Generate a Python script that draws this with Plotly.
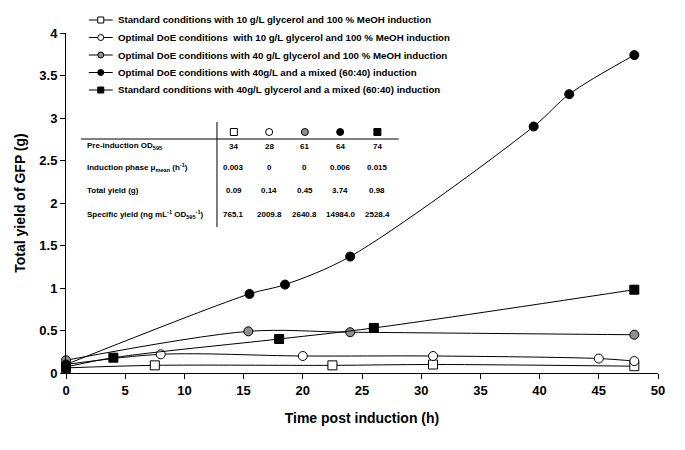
import plotly.graph_objects as go

# ---- data ----
names = [
    "Standard conditions with 10 g/L glycerol and 100 % MeOH induction",
    "Optimal DoE conditions  with 10 g/L glycerol and 100 % MeOH induction",
    "Optimal DoE conditions with 40 g/L glycerol and 100 % MeOH induction",
    "Optimal DoE conditions with 40g/L and a mixed (60:40) induction",
    "Standard conditions with 40g/L glycerol and a mixed (60:40) induction",
]
x_std10 = [0, 7.5, 22.5, 31, 48]
y_std10 = [0.06, 0.09, 0.09, 0.10, 0.08]
x_doe10 = [0, 8, 20, 31, 45, 48]
y_doe10 = [0.10, 0.22, 0.20, 0.20, 0.17, 0.14]
x_doe40 = [0, 15.4, 24, 48]
y_doe40 = [0.15, 0.49, 0.48, 0.45]
x_doe40mix = [0, 15.5, 18.5, 24, 39.5, 42.5, 48]
y_doe40mix = [0.10, 0.93, 1.04, 1.37, 2.90, 3.28, 3.74]
x_std40mix = [0, 4, 18, 26, 48]
y_std40mix = [0.07, 0.18, 0.40, 0.53, 0.98]

x_ticks = [0, 5, 10, 15, 20, 25, 30, 35, 40, 45, 50]

# inset table
row_labels = [
    "Pre-induction OD<sub>595</sub>",
    "Induction phase \u03bc<sub>mean</sub> (h<sup>-1</sup>)",
    "Total yield (g)",
    "Specific yield (ng mL<sup>-1</sup> OD<sub>595</sub><sup>-1</sup>)",
]
table_values = [
    ["34", "28", "61", "64", "74"],
    ["0.003", "0", "0", "0.006", "0.015"],
    ["0.09", "0.14", "0.45", "3.74", "0.98"],
    ["765.1", "2009.8", "2640.8", "14984.0", "2528.4"],
]

GRAY = "#8f8f8f"
styles = [
    dict(symbol="square", color="white"),
    dict(symbol="circle", color="white"),
    dict(symbol="circle", color=GRAY),
    dict(symbol="circle", color="black"),
    dict(symbol="square", color="black"),
]
series = [
    (x_std10, y_std10),
    (x_doe10, y_doe10),
    (x_doe40, y_doe40),
    (x_doe40mix, y_doe40mix),
    (x_std40mix, y_std40mix),
]

FONT = "Liberation Sans, Arial, Helvetica, sans-serif"


def bf(size):
    return dict(family=FONT, size=size, color="black", weight="bold")


fig = go.Figure()
for (xs, ys), nm, st in zip(series, names, styles):
    fig.add_trace(go.Scatter(
        x=xs, y=ys, name=nm, mode="lines+markers", showlegend=False,
        line=dict(color="black", width=1, shape="spline", smoothing=0.9),
        marker=dict(symbol=st["symbol"], size=9, color=st["color"],
                    line=dict(color="black", width=1)),
        cliponaxis=False,
    ))

# layout geometry (page pixels -> paper); page body has an 8px margin
OFF = 8
W, H = 685 - 2 * OFF, 450 - 2 * OFF
L, R, T, B = 65 - OFF, 24 - OFF, 33 - OFF, 77 - OFF
pw, ph = W - L - R, H - T - B


def px(x):
    return (x - OFF - L) / pw


def py(y):
    return (H - B - (y - OFF)) / ph


annotations = []
shapes = []


def symbol_shape(st, cx, cy, r):
    return dict(type="rect" if st["symbol"] == "square" else "circle",
                xref="paper", yref="paper", xsizemode="pixel", ysizemode="pixel",
                xanchor=px(cx), yanchor=py(cy), x0=-r, x1=r, y0=-r, y1=r,
                fillcolor=st["color"], line=dict(color="black", width=1))


# legend (drawn inside the plot, as in the original figure)
for i, (nm, st) in enumerate(zip(names, styles)):
    ly = 20 + 17.5 * i
    shapes.append(dict(type="line", xref="paper", yref="paper", x0=px(88), x1=px(112),
                       y0=py(ly), y1=py(ly), line=dict(color="black", width=1)))
    shapes.append(symbol_shape(st, 100, ly, 3))
    annotations.append(dict(text=nm, x=px(115), y=py(ly), xref="paper", yref="paper",
                            xanchor="left", yanchor="middle", showarrow=False,
                            font=bf(9.7)))

# inset table
col_x = [234, 269.5, 305.5, 341, 378.5]
row_y = [146, 167.5, 190.5, 214]
for lab, ry in zip(row_labels, row_y):
    annotations.append(dict(text=lab, x=px(84), y=py(ry),
                            xref="paper", yref="paper", xanchor="left",
                            yanchor="middle", showarrow=False, font=bf(8)))
for vals, ry in zip(table_values, row_y):
    for v, cx in zip(vals, col_x):
        annotations.append(dict(text=v, x=px(cx), y=py(ry),
                                xref="paper", yref="paper", xanchor="center",
                                yanchor="middle", showarrow=False, font=bf(8)))
for st, cx in zip(styles, col_x):
    shapes.append(symbol_shape(st, cx, 132, 3.5))
shapes.append(dict(type="line", xref="paper", yref="paper", x0=px(80), x1=px(400),
                   y0=py(139), y1=py(139), line=dict(color="black", width=1)))
shapes.append(dict(type="line", xref="paper", yref="paper", x0=px(217), x1=px(217),
                   y0=py(122), y1=py(227), line=dict(color="black", width=1)))

fig.update_layout(
    width=W, height=H,
    margin=dict(l=L, r=R, t=T, b=B),
    paper_bgcolor="white", plot_bgcolor="white",
    font=dict(family=FONT, color="black"),
    showlegend=False,
    annotations=annotations,
    shapes=shapes,
    xaxis=dict(range=[0, 50], tickvals=x_ticks, showline=True, linecolor="black",
               linewidth=1, ticks="outside", ticklen=5, tickcolor="black",
               showgrid=False, zeroline=False, tickfont=bf(13),
               title=dict(text="Time post induction (h)", standoff=16, font=bf(14))),
    yaxis=dict(range=[0, 4], dtick=0.5, showline=True, linecolor="black",
               linewidth=1, ticks="outside", ticklen=5, tickcolor="black",
               showgrid=False, zeroline=False, tickfont=bf(13),
               title=dict(text="Total yield of GFP (g)", standoff=10, font=bf(14))),
)

fig.write_html("out.html")
